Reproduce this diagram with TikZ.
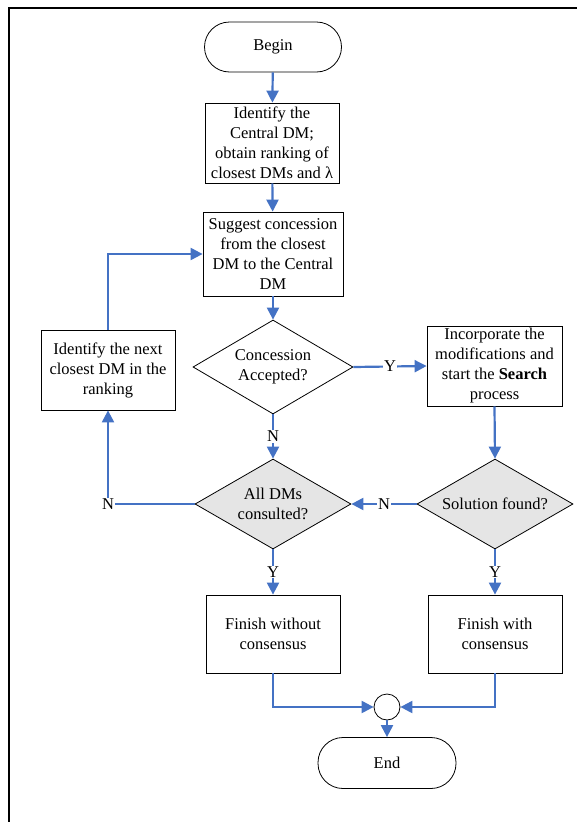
\documentclass[tikz,border=0pt]{standalone}
\usepackage{fontspec}
\setmainfont{Liberation Serif}
\usetikzlibrary{shapes.geometric}
\usetikzlibrary{arrows.meta}
\definecolor{linkblue}{HTML}{4472C4}

\begin{document}
\begin{tikzpicture}[x=1pt,y=-1pt,
      every node/.style={font=\fontsize{16.5}{20}\selectfont},
      terminal/.style={draw,rounded corners=25pt,minimum width=137pt,minimum height=50pt,line width=0.8pt},
      proc/.style={draw,rectangle,align=center,minimum width=134pt,minimum height=80pt,inner sep=1pt,line width=0.8pt},
      decision/.style={draw,diamond,align=center,aspect=1.7,minimum width=158pt,minimum height=92pt,inner sep=0pt,line width=0.8pt},
      shaded/.style={fill=black!10},
      link/.style={draw=linkblue,line width=2.2pt,-{Triangle[length=12pt,width=12pt]}},
      ans/.style={fill=white,inner sep=1pt},
    ]
        \useasboundingbox (0,0) rectangle (577,822);
        \draw[line width=1.5pt] (9,822) -- (9,8) -- (577,8);

        \node[terminal] (begin) at (273,47) {Begin};
        \node[proc] (central) at (272,143) {Identify the\\Central DM;\\obtain ranking of\\closest DMs and λ};
        \node[proc,minimum width=140pt,minimum height=84pt] (suggest) at (273,254) {Suggest concession\\from the closest\\DM to the Central\\DM};
        \node[decision,minimum width=160pt,minimum height=94pt] (accepted) at (273,367) {Concession\\Accepted?};
        \node[proc,minimum width=135pt] (search) at (494.5,366) {Incorporate the\\modifications and\\start the \textbf{Search}\\process};
        \node[proc] (nextdm) at (108,370) {Identify the next\\closest DM in the\\ranking};
        \node[decision,shaded,minimum width=156pt,minimum height=90pt] (consulted) at (273,504) {All DMs\\consulted?};
        \node[decision,shaded,minimum width=156pt,minimum height=90pt] (found) at (495,504) {Solution found?};
        \node[proc,minimum height=78pt] (nocons) at (273,634) {Finish without\\consensus};
        \node[proc,minimum height=78pt] (withcons) at (495,634) {Finish with\\consensus};
        \node[draw,circle,minimum size=26pt,inner sep=0pt,line width=0.8pt] (merge) at (387,707) {};
        \node[terminal,minimum width=138pt,minimum height=51pt] (end) at (387,763) {End};

        \draw[link] (begin) -- (central);
        \draw[link] (central) -- (suggest);
        \draw[link] (suggest) -- (accepted);
        \draw[link] (accepted.east) -- node[ans] {Y} (search.west);
        \draw[link] (accepted.south) -- node[ans] {N} (consulted.north);
        \draw[link] (search.south) -- (found.north);
        \draw[link] (found.west) -- node[ans] {N} (consulted.east);
        \draw[link] (consulted.west) -- (nextdm.south |- consulted.west) node[ans] {N} -- (nextdm.south);
        \draw[link] (nextdm.north) |- (suggest.west);
        \draw[link] (consulted.south) -- node[ans] {Y} (nocons.north);
        \draw[link] (found.south) -- node[ans] {Y} (withcons.north);
        \draw[link] (nocons.south) |- (merge.west);
        \draw[link] (withcons.south) |- (merge.east);
        \draw[link] (merge) -- (end);
    \end{tikzpicture}
\end{document}
